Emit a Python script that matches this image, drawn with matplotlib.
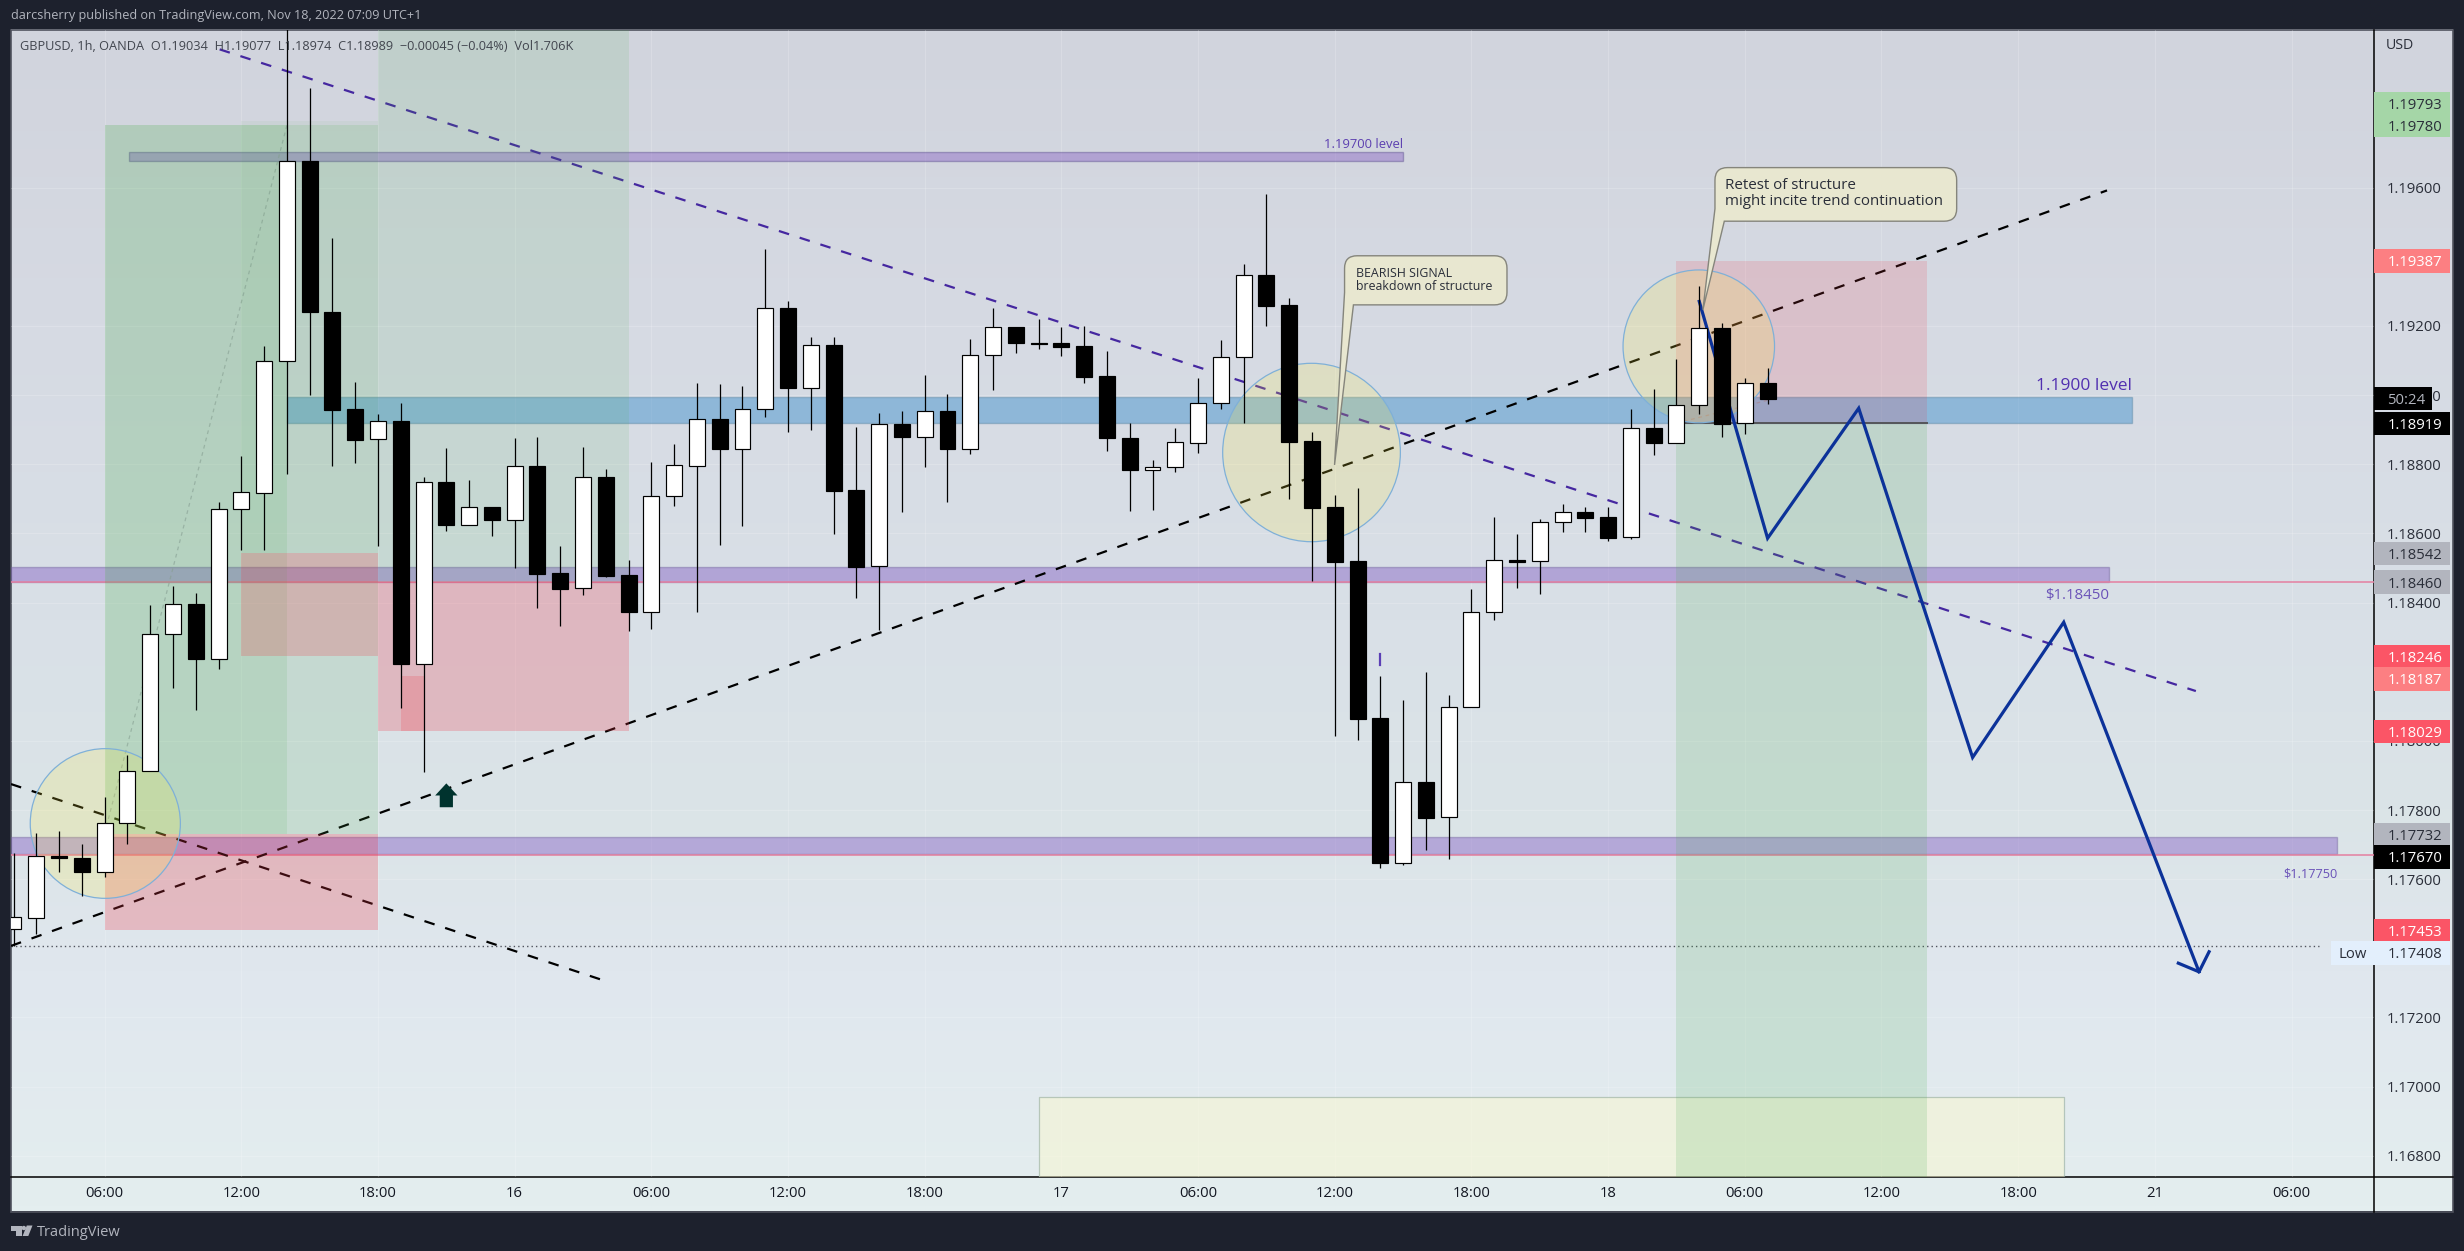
import numpy as np
import matplotlib
matplotlib.use('Agg')
import matplotlib.pyplot as plt
from matplotlib.patches import Rectangle, Ellipse, Polygon, PathPatch, Circle
from matplotlib.path import Path
from matplotlib.transforms import blended_transform_factory

plt.rcParams['font.family'] = ['Open Sans', 'DejaVu Sans']

# hours since Nov 15 00:00
hours = list(range(2, 80))
opens = [1.17457, 1.17488, 1.17667, 1.17662, 1.17622, 1.17762, 1.17912, 1.18308, 1.18396, 1.18238,
         1.18672, 1.18718, 1.19098, 1.19677, 1.19240, 1.18960, 1.18873, 1.18924, 1.18222, 1.18748,
         1.18623, 1.18676, 1.18640, 1.18794, 1.18485, 1.18441, 1.18763, 1.18480, 1.18372, 1.18708,
         1.18796, 1.18930, 1.18845, 1.18960, 1.19251, 1.19022, 1.19146, 1.18725, 1.18505, 1.18917,
         1.18878, 1.18954, 1.18843, 1.19115, 1.19198, 1.19150, 1.19151, 1.19143, 1.19056, 1.18876,
         1.18784, 1.18791, 1.18862, 1.18976, 1.19109, 1.19348, 1.19261, 1.18868, 1.18676, 1.18520,
         1.18066, 1.17648, 1.17882, 1.17779, 1.18097, 1.18374, 1.18522, 1.18519, 1.18632, 1.18662,
         1.18648, 1.18589, 1.18904, 1.18861, 1.18971, 1.19194, 1.18919, 1.19034]
highs = [1.17677, 1.17733, 1.17740, 1.17701, 1.17838, 1.17960, 1.18393, 1.18448, 1.18428, 1.18691,
         1.18825, 1.19143, 1.20100, 1.19888, 1.19455, 1.19038, 1.18945, 1.18977, 1.18762, 1.18847,
         1.18755, 1.18676, 1.18876, 1.18879, 1.18563, 1.18851, 1.18786, 1.18524, 1.18807, 1.18859,
         1.19035, 1.19033, 1.19026, 1.19423, 1.19272, 1.19169, 1.19168, 1.18909, 1.18948, 1.18955,
         1.19059, 1.19004, 1.19162, 1.19252, 1.19198, 1.19221, 1.19196, 1.19199, 1.19127, 1.18920,
         1.18812, 1.18904, 1.19050, 1.19160, 1.19380, 1.19582, 1.19282, 1.18893, 1.18711, 1.18732,
         1.18188, 1.18118, 1.18199, 1.18133, 1.18440, 1.18648, 1.18599, 1.18641, 1.18684, 1.18675,
         1.18675, 1.18959, 1.19018, 1.19105, 1.19316, 1.19208, 1.19049, 1.19078]
lows = [1.17406, 1.17442, 1.17621, 1.17550, 1.17605, 1.17703, 1.17912, 1.18152, 1.18088, 1.18208,
        1.18551, 1.18551, 1.18773, 1.19000, 1.18796, 1.18803, 1.18565, 1.18096, 1.17910, 1.18608,
        1.18623, 1.18592, 1.18501, 1.18385, 1.18332, 1.18423, 1.18475, 1.18318, 1.18324, 1.18679,
        1.18374, 1.18567, 1.18622, 1.18937, 1.18894, 1.18900, 1.18599, 1.18414, 1.18321, 1.18662,
        1.18792, 1.18691, 1.18829, 1.19015, 1.19123, 1.19133, 1.19113, 1.19035, 1.18839, 1.18665,
        1.18668, 1.18778, 1.18833, 1.18961, 1.18920, 1.19200, 1.18700, 1.18461, 1.18013, 1.18003,
        1.17631, 1.17640, 1.17683, 1.17659, 1.18097, 1.18351, 1.18443, 1.18424, 1.18604, 1.18603,
        1.18579, 1.18585, 1.18827, 1.18861, 1.18946, 1.18880, 1.18888, 1.18975]
closes = [1.17490, 1.17667, 1.17660, 1.17621, 1.17762, 1.17912, 1.18308, 1.18396, 1.18238, 1.18672,
          1.18719, 1.19098, 1.19677, 1.19239, 1.18958, 1.18871, 1.18924, 1.18221, 1.18748, 1.18623,
          1.18676, 1.18640, 1.18794, 1.18484, 1.18440, 1.18763, 1.18477, 1.18372, 1.18708, 1.18797,
          1.18930, 1.18845, 1.18960, 1.19251, 1.19022, 1.19144, 1.18724, 1.18503, 1.18916, 1.18878,
          1.18954, 1.18843, 1.19115, 1.19196, 1.19150, 1.19148, 1.19140, 1.19053, 1.18875, 1.18784,
          1.18791, 1.18864, 1.18976, 1.19109, 1.19346, 1.19258, 1.18865, 1.18673, 1.18517, 1.18063,
          1.17647, 1.17882, 1.17777, 1.18097, 1.18374, 1.18522, 1.18517, 1.18632, 1.18661, 1.18645,
          1.18586, 1.18904, 1.18861, 1.18971, 1.19194, 1.18917, 1.19034, 1.18990]

axis_hours = [6, 12, 18, 24, 30, 36, 42, 48, 54, 60, 66, 72, 78, 84, 90, 96, 102]
axis_hour_labels = ['06:00', '12:00', '18:00', '16', '06:00', '12:00', '18:00', '17', '06:00', '12:00',
                    '18:00', '18', '06:00', '12:00', '18:00', '21', '06:00']
price_ticks = [1.196, 1.192, 1.190, 1.188, 1.186, 1.184, 1.180, 1.178, 1.176, 1.172, 1.170, 1.168]

# labels on the price scale: text, where it sits, fill, text colour
tag_text = ['1.19793', '1.19780', '1.19387', '1.18919', '1.18542', '1.18460', '1.18246',
            '1.18187', '1.18029', '1.17732', '1.17670', '1.17453']
tag_at = [1.19843, 1.19781, 1.19388, 1.18918, 1.18542, 1.18459, 1.18244,
          1.18180, 1.18027, 1.17729, 1.17665, 1.17451]
tag_fill = ['#a5d6a7', '#a5d6a7', '#fc7f82', '#000000', '#b2b5be', '#b2b5be', '#fb5566',
            '#fc7f82', '#fb5566', '#b2b5be', '#000000', '#fb5566']
tag_ink = ['#2a2e39', '#2a2e39', '#ffffff', '#ffffff', '#2a2e39', '#2a2e39', '#ffffff',
           '#ffffff', '#ffffff', '#2a2e39', '#ffffff', '#ffffff']

# pane pixel frame
W, H = 2464, 1251
PL, PR, PT, PB = 11, 2374, 30, 1176.5
X0, X1 = 1.89, 105.62
Y0, Y1 = 1.16740, 1.20056


def box(ax, h0, h1, p0, p1, color, alpha, z=3, edge=None):
    ax.add_patch(Rectangle((h0, p0), h1 - h0, p1 - p0, facecolor=color, alpha=alpha,
                           edgecolor=edge if edge else 'none', lw=1, zorder=z))


def callout(ax, h0, h1, p0, p1, tip, base_h):
    # rounded box with a tail leaving the lower left corner
    rx, ry = 0.55, 0.00036
    verts = [(h0 + rx, p1), (h1 - rx, p1), (h1, p1), (h1, p1 - ry), (h1, p0 + ry), (h1, p0), (h1 - rx, p0),
             (base_h, p0), tip, (h0, p0 + ry), (h0, p1 - ry), (h0, p1), (h0 + rx, p1), (h0 + rx, p1)]
    codes = [Path.MOVETO, Path.LINETO, Path.CURVE3, Path.CURVE3, Path.LINETO, Path.CURVE3, Path.CURVE3,
             Path.LINETO, Path.LINETO, Path.LINETO, Path.LINETO, Path.CURVE3, Path.CURVE3, Path.CLOSEPOLY]
    ax.add_patch(PathPatch(Path(verts, codes), facecolor='#e8e7d0', edgecolor='#85857c', lw=1, zorder=9))


fig = plt.figure(figsize=(W / 100, H / 100), dpi=100, facecolor='#1d212d')

# backdrop in pixels
bg = fig.add_axes([0, 0, 1, 1], zorder=0)
bg.set_xlim(0, W)
bg.set_ylim(H, 0)
bg.axis('off')
stops_y = [0, 0.25, 0.5, 0.66, 0.8, 1]
stops_c = np.array([[209, 212, 221], [214, 218, 227], [217, 224, 231], [219, 228, 231], [224, 231, 238], [228, 238, 239]]) / 255
fade = np.linspace(0, 1, 256)
grad = np.stack([np.interp(fade, stops_y, stops_c[:, i]) for i in range(3)], axis=1)[:, None, :]
bg.imshow(grad, extent=(11, 2453, 1211.5, 30), aspect='auto', zorder=1)
bg.set_xlim(0, W)
bg.set_ylim(H, 0)
bg.add_patch(Rectangle((11, 30), 2442, 1181.5, fill=False, edgecolor='#50535e', lw=1.2, zorder=2))
bg.plot([11, 2453], [PB, PB], color='black', lw=1.1, zorder=2)
bg.plot([PR, PR], [30, 1211.5], color='black', lw=1.1, zorder=2)

# TradingView mark
bg.add_patch(Polygon([(11, 1225.5), (21.5, 1225.5), (21.5, 1236), (16, 1236), (16, 1230.5), (11, 1230.5)], color='#b2b5be', lw=0, zorder=2))
bg.add_patch(Circle((23.8, 1228), 2.2, color='#b2b5be', lw=0, zorder=2))
bg.add_patch(Polygon([(26.8, 1225.5), (32.5, 1225.5), (28.3, 1236), (22.6, 1236)], color='#b2b5be', lw=0, zorder=2))
bg.text(36.5, 1232.5, 'TradingView', color='#b2b5be', fontsize=10.5, va='center', ha='left', zorder=2)
bg.text(11, 16, 'darcsherry published on TradingView.com, Nov 18, 2022 07:09 UTC+1', color='#b2b5be',
        fontsize=9.1, va='center', ha='left')

ax = fig.add_axes([PL / W, 1 - PB / H, (PR - PL) / W, (PB - PT) / H], zorder=1)
ax.patch.set_visible(False)
ax.set_xlim(X0, X1)
ax.set_ylim(Y0, Y1)
for s in ax.spines.values():
    s.set_visible(False)

ax.set_axisbelow(True)
ax.grid(True, color='white', alpha=0.18, lw=0.8)
ax.yaxis.tick_right()
ax.set_yticks(price_ticks)
ax.set_yticklabels(['%.5f' % p for p in price_ticks])
ax.set_xticks(axis_hours)
ax.set_xticklabels(axis_hour_labels)
ax.tick_params(axis='y', length=0, pad=9.5, labelsize=10.7, labelcolor='#2a2e39')
ax.tick_params(axis='x', length=0, pad=7, labelsize=10.7, labelcolor='#131722')

# horizontal bands
box(ax, 7.06, 63, 1.19676, 1.19703, '#8964c3', 0.45, 1.6, '#5e5190')
box(ax, 14, 95, 1.18919, 1.18994, '#2481c6', 0.4, 1.6, '#4f7f9c')
box(ax, X0, 94, 1.18460, 1.18502, '#7e57c2', 0.43, 1.6, '#6f5f9c')
box(ax, X0, 104, 1.17672, 1.17721, '#7e57c2', 0.42, 1.6, '#6f5f9c')
ax.plot([X0, X1], [1.18460, 1.18460], color='#e57fa0', lw=1.1, zorder=1.7)
ax.plot([X0, X1], [1.17670, 1.17670], color='#e57fa0', lw=1.1, zorder=1.7)
ax.plot([X0, 103.2], [1.17408, 1.17408], color='#50535e', lw=1, ls=(0, (1, 2.2)), zorder=1.7)

# demand box at the bottom
box(ax, 47, 92, 1.16600, 1.16970, '#faf8d0', 0.5, 1.6)
ax.plot([47, 47, 92, 92], [Y0, 1.16970, 1.16970, Y0], color='#9fb5a8', lw=0.9, alpha=0.7, zorder=1.65)

# trend lines
black = (0, (4.8, 5))
ax.plot([X0, 93.9], [1.17407, 1.19592], color='black', lw=1.6, ls=black, zorder=2)
ax.plot([X0, 28], [1.17875, 1.17305], color='black', lw=1.6, ls=black, zorder=2)
ax.plot([11.05, 97.8], [1.20000, 1.18144], color='#4527a0', lw=1.6, ls=black, zorder=2)
ax.plot([6, 14], [1.17732, 1.19780], color='#9a9aa8', lw=0.9, ls=(0, (3, 3)), alpha=0.6, zorder=2)
ax.plot([75, 79], [1.18919, 1.18985], color='#9a9aa8', lw=0.9, ls=(0, (3, 3)), alpha=0.8, zorder=2)

# position tools
green, red = '#4caf50', '#f23645'
box(ax, 6, 18, 1.17732, 1.19780, green, 0.14)
box(ax, 6, 18, 1.17453, 1.17732, red, 0.25)
box(ax, 6, 14, 1.17732, 1.19780, green, 0.12)
box(ax, 12, 18, 1.18542, 1.19793, green, 0.06)
box(ax, 12, 18, 1.18246, 1.18542, red, 0.22)
box(ax, 18, 29, 1.18460, 1.20100, green, 0.12)
box(ax, 18, 29, 1.18029, 1.18460, red, 0.24)
box(ax, 19, 20, 1.18029, 1.18187, red, 0.2)
box(ax, 75, 86, 1.18919, 1.19387, red, 0.15)
box(ax, 75, 86, 1.16600, 1.18919, green, 0.17)
ax.plot([75, 86], [1.18919, 1.18919], color='#55555a', lw=1.4, zorder=3.1)

# circles
for c_h, c_p, w_h, w_p in [(6.03, 1.17761, 6.59, 0.00433), (58.98, 1.18834, 7.80, 0.00516), (75.98, 1.19141, 6.65, 0.00442)]:
    ax.add_patch(Ellipse((c_h, c_p), w_h, w_p, facecolor='#ffeb3b', alpha=0.19, edgecolor='none', zorder=3.2))
    ax.add_patch(Ellipse((c_h, c_p), w_h, w_p, fill=False, edgecolor='#7fb0d8', lw=0.9, zorder=3.2))

# projected path
path_h = [76, 79, 83, 88, 92, 97.94]
path_p = [1.19271, 1.18586, 1.18962, 1.17952, 1.18343, 1.17332]
ax.plot(path_h, path_p, color='#0c3299', lw=2.3, solid_joinstyle='miter', zorder=3.5)
ax.plot([97.03, 97.94, 98.38], [1.17357, 1.17332, 1.17390], color='#0c3299', lw=2.3, zorder=3.5)

# candles
hours_a = np.array(hours)
o, h, l, c = map(np.array, (opens, highs, lows, closes))
ax.vlines(hours_a, l, h, color='black', lw=0.9, zorder=4)
up = c >= o
ax.bar(hours_a, np.abs(c - o), 0.7, bottom=np.minimum(o, c), color=np.where(up, 'white', 'black'),
       edgecolor='black', lw=0.85, zorder=4.2)

# bits of marks
ax.add_patch(Polygon([(21, 1.17877), (21.49, 1.17842), (21.29, 1.17842), (21.29, 1.17808),
                      (20.71, 1.17808), (20.71, 1.17842), (20.51, 1.17842)], color='#00332e', lw=0, zorder=5))
ax.plot([62, 62], [1.18219, 1.18251], color='#5b3fb5', lw=1.6, zorder=5)

callout(ax, 60.43, 67.56, 1.19261, 1.19403, (59.99, 1.18798), 60.82)
ax.text(60.93, 1.19352, 'BEARISH SIGNAL', color='#2a2e39', fontsize=8.9, va='center', ha='left', zorder=10)
ax.text(60.93, 1.19314, 'breakdown of structure', color='#2a2e39', fontsize=8.9, va='center', ha='left', zorder=10)
callout(ax, 76.69, 87.3, 1.19503, 1.19658, (76.16, 1.19247), 77.1)
ax.text(77.14, 1.19606, 'Retest of structure', color='#2a2e39', fontsize=10.9, va='center', ha='left', zorder=10)
ax.text(77.14, 1.19560, 'might incite trend continuation', color='#2a2e39', fontsize=10.9, va='center', ha='left', zorder=10)

ax.text(63, 1.19726, '1.19700 level', color='#5c3fb0', fontsize=9.4, va='center', ha='right', zorder=6)
ax.text(95, 1.19027, '1.1900 level', color='#5130b0', fontsize=12.5, va='center', ha='right', zorder=6)
ax.text(94, 1.18420, '$1.18450', color='#6a52b8', fontsize=10.8, va='center', ha='right', zorder=6)
ax.text(104, 1.17616, '$1.17750', color='#6a52b8', fontsize=9.2, va='center', ha='right', zorder=6)

# price scale tags
tr = blended_transform_factory(ax.transAxes, ax.transData)
ax_w = PR - PL
tag_h = 0.000345
for txt, at, fill, ink in zip(tag_text, tag_at, tag_fill, tag_ink):
    ax.add_patch(Rectangle((1, at - tag_h), 76 / ax_w, 2 * tag_h, facecolor=fill, lw=0, transform=tr, clip_on=False, zorder=20))
    ax.text(1 + 13.5 / ax_w, at, txt, color=ink, fontsize=10.7, va='center_baseline', ha='left', transform=tr, zorder=21)
ax.add_patch(Rectangle((1, 1.18990 - tag_h), 58 / ax_w, 2 * tag_h, facecolor='black', lw=0, transform=tr, clip_on=False, zorder=20))
ax.text(1 + 13 / ax_w, 1.18990, '50:24', color='#b2b5be', fontsize=10.7, va='center_baseline', ha='left', transform=tr, zorder=21)
ax.add_patch(Rectangle((1 - 43 / ax_w, 1.17387 - tag_h), 119 / ax_w, 2 * tag_h, facecolor='#e3effc', lw=0, transform=tr, clip_on=False, zorder=20))
ax.text(1 - 35 / ax_w, 1.17387, 'Low', color='#2a2e39', fontsize=10.7, va='center_baseline', ha='left', transform=tr, zorder=21)
ax.text(1 + 13.5 / ax_w, 1.17387, '1.17408', color='#2a2e39', fontsize=10.7, va='center_baseline', ha='left', transform=tr, zorder=21)
ax.text(1 + 11.5 / ax_w, 1.20012, 'USD', color='#2a2e39', fontsize=10.2, va='center', ha='left', transform=tr, zorder=21)

ax.text(0.0038, 1.20008, 'GBPUSD, 1h, OANDA  O1.19034  H1.19077  L1.18974  C1.18989  \u22120.00045 (\u22120.04%)  Vol1.706K',
        color='#42464f', fontsize=9.2, va='center', ha='left', transform=tr, zorder=21)

fig.savefig('out.png', dpi=100, facecolor=fig.get_facecolor())
